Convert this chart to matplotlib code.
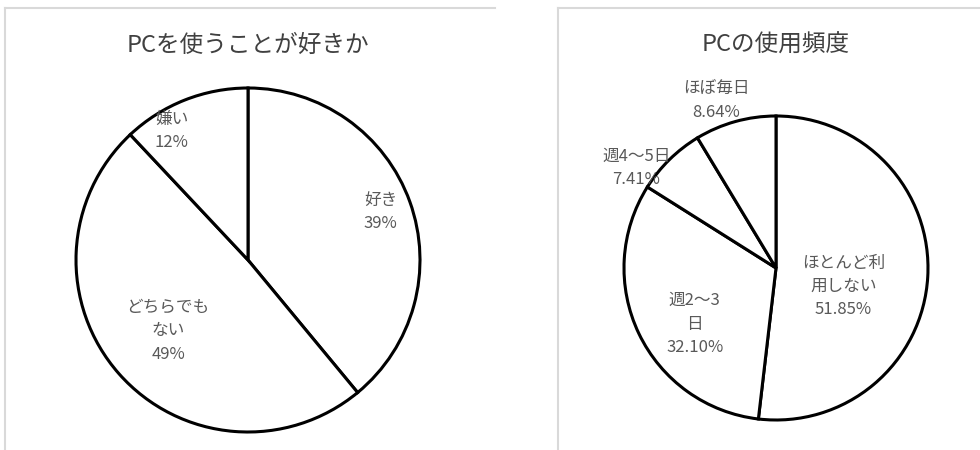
import numpy as np
import matplotlib.pyplot as plt
from matplotlib.lines import Line2D

plt.rcParams["font.family"] = ["Noto Sans CJK JP", "DejaVu Sans"]

# データ
like_labels = ["好き", "どちらでも\nない", "嫌い"]
like_values = [39, 49, 12]
like_pct = ["39%", "49%", "12%"]

freq_labels = ["ほとんど利\n用しない", "週2～3\n日", "週4～5日", "ほぼ毎日"]
freq_values = [51.85, 32.10, 7.41, 8.64]
freq_pct = ["51.85%", "32.10%", "7.41%", "8.64%"]

W, H = 980, 450
text_color = "#595959"

fig = plt.figure(figsize=(W / 100, H / 100), dpi=100)


def px_axes(cx, cy, r):
    # 中心とピクセル半径から正方形の軸を作る
    return fig.add_axes([(cx - r) / W, (H - cy - r) / H, 2 * r / W, 2 * r / H])


def draw_pie(ax, values, labels, pct, dists, shifts):
    wedges, _ = ax.pie(values, startangle=90, counterclock=False, radius=1,
                       colors=["white"] * len(values),
                       wedgeprops=dict(edgecolor="black", linewidth=2.2))
    for w, lab, p, d, s in zip(wedges, labels, pct, dists, shifts):
        ang = np.deg2rad((w.theta1 + w.theta2) / 2 + s)
        ax.text(d * np.cos(ang), d * np.sin(ang), lab + "\n" + p,
                ha="center", va="center", fontsize=12, color=text_color,
                linespacing=1.5)
    ax.set_xlim(-1, 1)
    ax.set_ylim(-1, 1)
    ax.set_aspect("equal")
    ax.axis("off")


# 左: PCを使うことが好きか
ax1 = px_axes(248, 260, 172)
draw_pie(ax1, like_values, like_labels, like_pct,
         dists=[0.82, 0.62, 0.87], shifts=[0, 0, 9])

# 右: PCの使用頻度
ax2 = px_axes(776, 268, 152)
draw_pie(ax2, freq_values, freq_labels, freq_pct,
         dists=[0.46, 0.65, 1.13, 1.17], shifts=[-12, 9, 10, 4])

fig.text(248 / W, 1 - 45 / H, "PCを使うことが好きか", ha="center", va="center",
         fontsize=17, color="#404040")
fig.text(776 / W, 1 - 45 / H, "PCの使用頻度", ha="center", va="center",
         fontsize=17, color="#404040")

# パネルの枠線
border = "#d9d9d9"
for xs, ys in [([5, 5], [450, 8]), ([5, 495], [8, 8]),
               ([558, 558], [450, 8]), ([558, 980], [8, 8])]:
    fig.add_artist(Line2D([x / W for x in xs], [1 - y / H for y in ys],
                          color=border, linewidth=1.5))

fig.savefig("out.png", dpi=100, facecolor="white")
